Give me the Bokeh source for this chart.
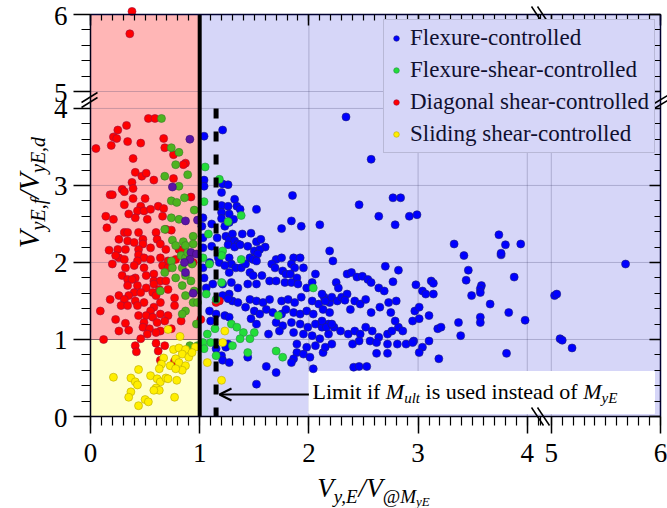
import math
from bokeh.plotting import figure
from bokeh.models import (FixedTicker, LinearAxis, Label,
                          Arrow, OpenHead, Legend, LegendItem, Range1d)
from bokeh.embed import file_html
from bokeh.resources import INLINE

# ---------------- data ----------------
flexure = [
    (1.21,3.72),(1.04,3.64),(1.04,3.07),(1.04,2.99),(1.21,3.02),(1.26,3.01),(1.20,2.91),(1.85,2.87),(1.32,2.82),(1.20,2.74),
    (1.26,2.73),(1.34,2.73),(1.37,2.69),(1.52,2.69),(1.20,2.65),(1.27,2.63),(1.03,2.58),(1.20,2.57),(1.31,2.56),(1.84,2.54),
    (1.93,2.47),(2.10,2.49),(1.75,2.44),(1.11,2.50),(1.23,2.47),(1.27,2.52),(1.02,2.47),(1.16,2.32),(1.24,2.34),(1.27,2.30),
    (1.30,2.37),(1.39,2.37),(1.47,2.38),(1.32,2.28),(1.35,2.24),(1.11,2.21),(1.26,2.23),(1.32,2.20),(1.37,2.23),(1.44,2.21),
    (1.52,2.27),(1.56,2.30),(1.60,2.20),(1.50,2.15),(1.55,2.17),(1.53,2.11),(1.46,2.06),(1.49,2.04),(1.52,2.02),(1.17,2.06),
    (1.18,2.00),(1.27,2.06),(1.29,1.98),(1.23,1.96),(1.27,1.87),(1.33,1.93),(1.38,1.93),(1.42,1.98),(1.46,1.87),(1.49,1.83),
    (1.57,1.83),(1.64,1.76),(1.70,2.04),(1.75,2.06),(1.66,1.98),(1.69,1.93),(1.76,1.89),(1.79,1.85),(1.86,2.06),(1.92,2.06),
    (1.84,1.98),(1.87,1.93),(1.83,1.85),(1.89,1.80),(1.95,1.93),(2.06,1.85),(1.70,1.76),(1.78,1.74),(1.84,1.74),(1.90,1.72),
    (1.98,1.67),(2.03,1.74),(2.19,2.15),(2.22,2.02),(1.12,1.72),(1.21,1.72),(1.29,1.74),(1.35,1.67),(1.44,1.72),(1.52,1.72),
    (1.03,2.32),(1.03,2.19),(1.03,1.93),(1.04,1.80),(1.09,2.00),(1.06,1.67),
    (2.14,1.55),(1.27,1.59),(1.30,1.50),(1.35,1.48),(1.21,1.57),(1.26,1.53),(1.46,1.52),(1.52,1.50),(1.58,1.48),(1.64,1.52),
    (1.75,1.50),(1.81,1.52),(1.87,1.48),(1.93,1.55),(2.03,1.50),(2.09,1.46),(2.19,1.48),(1.42,1.42),(1.50,1.37),(1.55,1.33),
    (1.61,1.39),(1.67,1.35),(1.75,1.33),(1.79,1.39),(1.86,1.35),(1.92,1.33),(1.98,1.37),(2.04,1.33),(2.13,1.39),(2.19,1.35),
    (1.47,1.27),(1.52,1.20),(1.70,1.22),(1.76,1.18),(1.84,1.22),(1.92,1.20),(1.99,1.16),(2.06,1.20),(2.12,1.16),(2.18,1.20),
    (2.23,1.16),(1.63,1.07),(1.73,1.11),(1.86,1.09),(1.95,1.07),(2.03,1.05),(2.10,1.01),(2.18,1.07),(1.89,0.94),(1.98,0.90),
    (2.06,0.92),(2.13,0.83),(1.89,0.83),(1.95,0.81),(1.86,0.75),(1.84,0.70),(2.01,0.77),(1.44,0.77),(1.61,0.65),(1.70,0.57),
    (1.52,0.42),(2.04,0.62),(1.09,1.37),(1.10,1.24),(1.15,1.33),(1.23,1.31),(1.27,1.29),(1.26,0.94),(1.24,0.90),(1.20,0.79),
    (1.21,0.73),(1.27,0.70),(1.15,0.88),
    (2.34,3.89),(2.57,3.34),(2.77,2.84),(2.84,2.84),(2.46,2.75),(2.64,2.60),(2.79,2.49),(2.92,2.60),(2.99,2.62),(3.33,2.24),
    (3.42,2.09),(2.70,1.95),(2.82,1.90),(3.46,1.90),(3.44,1.77),(2.35,1.85),(2.39,1.87),(2.44,1.81),(2.49,1.82),(2.54,1.78),
    (2.57,1.74),(2.25,1.74),(2.27,1.67),(2.64,1.67),(2.69,1.63),(2.77,1.75),(2.98,1.71),(3.04,1.63),(3.07,1.59),(3.12,1.76),
    (3.14,1.73),(3.14,1.59),(3.58,1.70),(3.49,1.57),(3.37,1.22),(3.39,1.05),(3.19,0.75),
    (2.12,1.59),(2.15,1.50),(2.21,1.55),(2.26,1.50),(2.30,1.55),(2.35,1.59),(2.33,1.51),(2.42,1.50),(2.47,1.46),(2.52,1.52),
    (2.38,1.39),(2.57,1.35),(2.65,1.42),(2.73,1.48),(2.80,1.50),(2.75,1.35),(2.82,1.16),(2.79,1.24),(2.97,1.37),(3.01,1.42),
    (3.10,1.31),(2.95,1.24),(3.01,1.27),(2.12,1.24),(2.16,1.16),(2.21,1.20),(2.29,1.11),(2.36,1.07),(2.42,1.11),(2.47,1.07),
    (2.52,1.16),(2.58,1.11),(2.64,1.03),(2.72,1.07),(2.76,1.11),(2.86,1.11),(2.89,0.94),(2.96,0.98),(3.04,0.90),(3.01,0.83),
    (3.10,0.98),(3.18,1.14),(3.21,1.16),(2.15,0.90),(2.21,0.94),(2.40,0.94),(2.46,0.98),(2.56,0.98),(2.62,0.96),(2.72,0.94),
    (2.81,0.94),(2.95,0.96),(2.62,0.82),(2.72,0.82),(2.41,0.64),(2.46,0.65),(2.53,0.65),
    (3.74,2.36),(3.80,2.23),(3.94,2.24),(3.76,2.10),(3.76,2.12),(3.88,1.81),(3.57,1.66),(3.57,1.61),(3.66,1.46),(3.57,1.29),
    (3.57,1.22),(3.83,1.35),(3.98,1.25),(3.81,0.82),(5.03,1.57),(5.05,1.59),(5.08,1.01),(5.10,0.99),(5.19,0.89),(5.68,1.98),
]

flexure_shear = [
    (0.65,3.87),(0.74,3.49),(0.81,3.43),(0.78,3.27),(0.68,3.12),(0.89,3.14),(0.81,2.99),(0.86,2.84),(0.74,2.80),(0.79,2.78),
    (0.95,2.68),(0.74,2.58),(0.81,2.56),(0.68,2.43),(0.75,2.29),(0.85,2.27),(0.94,2.34),(0.78,2.22),(0.87,2.22),(0.94,2.24),
    (0.83,2.09),(0.74,2.02),(0.87,2.06),(0.68,1.87),(0.75,1.93),(0.84,1.93),(0.87,1.83),(0.92,1.76),(0.78,1.80),(0.64,1.63),
    (0.84,1.70),(0.95,1.63),(0.87,1.57),(0.94,1.48),(0.98,1.48),(0.87,1.37),(0.84,1.33),(0.97,1.20),(0.91,0.92),(0.98,0.92),
    (0.89,2.13),(0.93,1.98),
    (1.05,3.24),(1.18,3.08),(1.04,2.79),(1.38,2.61),(1.26,2.53),(1.08,2.37),(1.21,2.15),(1.20,2.09),(1.38,2.04),(1.09,1.98),
    (1.20,1.74),(2.04,1.67),(1.03,2.06),(1.06,1.59),(1.15,1.52),(1.29,1.20),(1.40,1.09),(1.34,1.16),(1.50,1.09),(1.14,1.14),
    (1.07,1.07),(1.10,0.96),(1.03,0.96),(1.04,0.88),(1.15,0.79),(1.30,0.92),(1.37,1.01),(1.46,1.01),(1.72,1.31),(1.44,0.83),
    (1.70,0.85),(1.76,0.77),
]

diagonal_shear = [
    (0.38,6.04),(0.36,5.75),(0.53,3.87),(0.59,3.87),(0.33,3.78),(0.25,3.72),(0.21,3.63),(0.24,3.61),(0.05,3.48),(0.19,3.52),
    (0.34,3.57),(0.46,3.55),(0.67,3.61),(0.68,3.49),(0.76,3.40),(0.39,3.35),(0.87,3.29),(0.85,3.27),(0.41,3.17),(0.47,3.12),
    (0.51,3.16),(0.58,3.07),(0.76,3.09),(0.38,3.04),(0.29,2.95),(0.31,2.92),(0.39,2.96),(0.18,2.88),(0.20,2.88),(0.39,2.83),
    (0.50,2.83),(0.92,2.85),
    (0.31,2.75),(0.46,2.73),(0.43,2.67),(0.35,2.63),(0.41,2.58),(0.49,2.67),(0.55,2.69),(0.62,2.73),(0.67,2.70),(0.52,2.56),
    (0.14,2.60),(0.21,2.56),(0.15,2.45),(0.66,2.60),
    (0.31,2.39),(0.34,2.39),(0.44,2.39),(0.60,2.39),(0.69,2.43),(0.74,2.42),(0.26,2.30),(0.34,2.28),(0.40,2.26),(0.48,2.30),
    (0.48,2.24),(0.61,2.30),(0.64,2.24),
    (0.17,2.16),(0.25,2.17),(0.32,2.17),(0.44,2.17),(0.55,2.19),(0.69,2.17),(0.81,2.17),(0.84,2.15),(0.26,2.06),(0.31,2.04),
    (0.44,2.10),(0.49,2.06),(0.43,2.02),(0.55,2.04),(0.64,2.06),(0.71,2.02),(0.78,2.04),(0.23,2.09),(0.94,2.00),
    (0.40,1.96),(0.49,1.93),(0.66,1.96),(0.71,1.93),(0.32,1.93),(0.20,1.98),(0.51,1.83),(0.58,1.85),(0.41,1.80),(0.29,1.83),
    (0.34,1.78),(0.38,1.78),(0.58,1.76),(0.64,1.76),(0.69,1.76),
    (0.34,1.70),(0.43,1.70),(0.51,1.67),(0.58,1.72),(0.63,1.65),(0.40,1.61),(0.46,1.61),(0.57,1.61),(0.60,1.57),(0.35,1.57),
    (0.26,1.57),(0.31,1.52),(0.71,1.65),(0.77,1.54),(0.18,1.52),(0.41,1.50),(0.49,1.48),(0.64,1.48),
    (0.28,1.44),(0.34,1.44),(0.43,1.44),(0.58,1.42),(0.77,1.44),(0.09,1.37),(0.55,1.37),(0.23,1.26),(0.32,1.21),(0.44,1.31),
    (0.51,1.31),(0.57,1.29),(0.64,1.33),(0.71,1.31),(0.68,1.24),(0.49,1.22),(0.61,1.22),(0.48,1.16),(0.54,1.14),(0.83,1.24),
    (1.01,1.26),(0.26,1.11),(0.35,1.12),(0.64,1.11),(0.74,1.14),(0.52,1.07),(0.46,1.01),(0.60,1.09),
    (0.12,1.00),(0.41,0.92),(0.42,0.84),(0.60,0.95),(0.62,0.85),(0.68,0.92),(0.64,0.73),(0.77,0.72),
    (1.15,1.48),(1.18,1.50),
]

sliding_shear = [
    (0.76,0.87),(0.81,0.89),(0.87,0.87),(0.84,0.81),(0.90,0.77),(0.96,0.90),(0.93,0.83),(0.67,0.76),(0.78,0.75),(0.65,0.68),
    (0.73,0.66),(0.81,0.70),(0.87,0.66),(0.84,0.60),(0.78,0.62),(0.63,0.62),(0.44,0.61),(0.37,0.50),(0.41,0.45),(0.43,0.41),
    (0.55,0.53),(0.61,0.49),(0.64,0.45),(0.69,0.50),(0.71,0.49),(0.79,0.47),(0.21,0.51),(0.60,0.37),(0.63,0.34),(0.37,0.32),
    (0.35,0.25),(0.58,0.34),(0.50,0.22),(0.53,0.19),(0.44,0.14),(0.77,0.25),(0.71,1.13),(0.82,1.04),(1.07,0.70),(1.20,0.47),
    (1.21,0.96),(1.23,1.11),
]

# flexure points overlapping shear points (shown darker)
overlap = [(0.91,3.60),(0.75,2.98),(0.87,2.54),(0.98,2.55),(0.92,2.13),(0.97,2.11),(0.91,2.04),(0.86,2.00),(0.87,1.87),(0.94,1.60)]

series_names = ["Flexure-controlled", "Flexure-shear-controlled",
                "Diagonal shear-controlled", "Sliding shear-controlled"]
x_major = [0, 1, 2, 3, 4, 5, 6]
y_major = [0, 1, 2, 3, 4, 5, 6]
x_tick_labels = ["0", "1", "2", "3", "4", "5", "6"]
y_tick_labels = ["0", "1", "2", "3", "4", "5", "6"]
x_minor = [round(i * 0.1, 1) for i in range(0, 42)] + [round(4.9 + i * 0.1, 1) for i in range(0, 12)]
y_minor = [round(i * 0.2, 1) for i in range(0, 21)] + [round(5.0 + i * 0.2, 1) for i in range(0, 6)]
x_grid = [2, 3, 4, 5]
y_grid = [1, 2, 3, 4, 5]
shear_limit = 1.0        # V_y,E / V@MyE = 1
sliding_limit = 1.0      # V_yE,f / V_yE,d = 1
mult_limit = 1.15        # limit if M_ult is used
mult_limit_top = 4.0

# ---------------- broken-axis transform ----------------
GAP = 0.78
def t(v):
    return v if v <= 4.5 else v - GAP

UMAX = t(6.0)
W, H = 667, 508
FL, FR, FT, FB = 90, 660, 14, 416          # plot box inside the canvas
XU = (FR - FL) / UMAX
YU = (FB - FT) / UMAX
def dx(px): return (px - FL) / XU
def dy(py): return (FB - py) / YU
def px_of(u): return FL + u * XU
def py_of(v): return FB - v * YU

LAV = "#D6D6F8"
PINK = "#FFB6B6"
YEL = "#FFFFCC"
SERIF = "Liberation Serif, serif"
MID = 0.3375   # em-box middle above the baseline for this font

p = figure(width=W, height=H, x_range=Range1d(dx(0), dx(W)), y_range=Range1d(dy(H), dy(0)),
           output_backend="svg", toolbar_location=None, min_border=0,
           background_fill_color="white", border_fill_color="white", outline_line_color=None)
p.grid.visible = False

# backgrounds
p.quad(left=[0], right=[UMAX], bottom=[0], top=[UMAX], color=LAV, level="image")
p.quad(left=[0], right=[shear_limit], bottom=[sliding_limit], top=[UMAX], color=PINK, level="image")
p.quad(left=[0], right=[shear_limit], bottom=[0], top=[sliding_limit], color=YEL, level="image")
p.segment(x0=[0], y0=[sliding_limit], x1=[shear_limit], y1=[sliding_limit], line_color="#8a5050",
          line_width=1.2, line_alpha=0.8, level="image")

# grid lines
p.segment(x0=[t(g) for g in x_grid], y0=0, x1=[t(g) for g in x_grid], y1=UMAX,
          line_color="#40406a", line_alpha=0.28, line_width=1, level="underlay")
p.segment(x0=0, y0=[t(g) for g in y_grid], x1=UMAX, y1=[t(g) for g in y_grid],
          line_color="#40406a", line_alpha=0.28, line_width=1, level="underlay")

# tickers / axes (tick labels drawn below as serif labels)
xt = FixedTicker(ticks=[t(v) for v in x_major], minor_ticks=[t(v) for v in x_minor])
yt = FixedTicker(ticks=[t(v) for v in y_major], minor_ticks=[t(v) for v in y_minor])

ax_x = p.xaxis[0]
ax_y = p.yaxis[0]
for ax, tk in ((ax_x, xt), (ax_y, yt)):
    ax.ticker = tk
    ax.fixed_location = 0
    ax.bounds = (0, UMAX)
    ax.major_tick_in = 0
    ax.major_tick_out = 17
    ax.minor_tick_in = 0
    ax.minor_tick_out = 9
    ax.major_tick_line_width = 1.5
    ax.minor_tick_line_width = 1.2
    ax.axis_line_width = 1.5
    ax.axis_line_color = "#000018"
    ax.major_label_text_color = None

for loc, tk in (("above", xt), ("right", yt)):
    a = LinearAxis(ticker=tk, fixed_location=UMAX, bounds=(0, UMAX),
                   major_tick_in=11, major_tick_out=0, minor_tick_in=6, minor_tick_out=0,
                   major_label_text_color=None, axis_line_width=1.5, axis_line_color="#000030",
                   major_tick_line_width=1.5, minor_tick_line_width=1.2)
    p.add_layout(a, loc)

for v, s in zip(x_major, x_tick_labels):
    p.add_layout(Label(x=t(v), y=dy(452), text=s, text_font=SERIF, text_font_size="27px",
                       text_align="center", text_baseline="middle", text_color="black"))
for v, s in zip(y_major, y_tick_labels):
    p.add_layout(Label(x=dx(67), y=dy(py_of(t(v)) + 1), text=s, text_font=SERIF, text_font_size="27px",
                       text_align="right", text_baseline="middle", text_color="black"))

# white annotation box (glyph level, under markers)
p.quad(left=[2.0], right=[dx(654)], bottom=[dy(413)], top=[dy(371)], color="white")

def pts(lst, keep=lambda x: True):
    sel = [(x, y) for x, y in lst if keep(x)]
    return [t(x) for x, _ in sel], [t(y) for _, y in sel]

SZ = 8
bx, by = pts(flexure)
r_blue = p.scatter(bx, by, size=SZ, fill_color="#0000FF", line_color="#20207a", line_width=0.6)
rx, ry = pts(diagonal_shear)
r_red = p.scatter(rx, ry, size=SZ, fill_color="#FF0000", line_color="#9a1040", line_width=0.6)
gx1, gy1 = pts(flexure_shear, lambda x: x < shear_limit)
p.scatter(gx1, gy1, size=SZ, fill_color="#4DB31F", line_color="#3a7a2a", line_width=0.6)
gx2, gy2 = pts(flexure_shear, lambda x: x >= shear_limit)
r_green = p.scatter(gx2, gy2, size=SZ, fill_color="#22DD3A", line_color="#2a8a4a", line_width=0.6)
ox, oy = pts(overlap)
p.scatter(ox, oy, size=SZ, fill_color="#5A14A8", line_color="#3a1070", line_width=0.6)
yx, yy = pts(sliding_shear)
r_yel = p.scatter(yx, yy, size=SZ, fill_color="#FFEE00", line_color="#b8a800", line_width=0.6)

# limit lines
p.segment(x0=[shear_limit], y0=[0], x1=[shear_limit], y1=[UMAX], line_color="black", line_width=4)
p.segment(x0=[mult_limit], y0=[mult_limit_top], x1=[mult_limit], y1=[0], line_color="black",
          line_width=5, line_dash="10 13")

# arrow
p.add_layout(Arrow(end=OpenHead(size=12, line_width=2.2, line_color="black"),
                   x_start=2.0, y_start=dy(394), x_end=dx(219), y_end=dy(394),
                   line_width=2.2, line_color="black"))

# ---------------- rich text helpers ----------------
REG = {' ': 250, 'L': 611, 'i': 278, 'm': 778, 't': 278, 'f': 333, 's': 389, 'u': 500, 'e': 444,
       'd': 500, 'n': 500, 'a': 444, 'o': 500, '@': 921, ',': 250, '/': 278, 'l': 278, 'y': 500,
       'E': 611, 'M': 889, 'V': 722}
ITA = {' ': 250, 'M': 833, 'u': 500, 'l': 278, 't': 278, 'y': 444, 'E': 611, 'V': 611, ',': 250,
       'f': 278, 'd': 500, '/': 278, '@': 920}

def tw(s, size, italic):
    tab = ITA if italic else REG
    return sum(tab.get(c, 500) for c in s) * size / 1000.0

def rich(pieces, start, base, rotated=False, color="black"):
    # base = baseline position in canvas px; labels are anchored at the em-box middle
    cur = start
    for txt, size, it, shift in pieces:
        stripped = txt.strip()
        lead = tw(txt[:len(txt) - len(txt.lstrip())], size, it)
        mid = base + shift - MID * size
        if rotated:
            lx, ly, ang = dx(mid), dy(cur - lead), math.pi / 2
            cur -= tw(txt, size, it)
        else:
            lx, ly, ang = dx(cur + lead), dy(mid), 0
            cur += tw(txt, size, it)
        p.add_layout(Label(x=lx, y=ly, text=stripped, angle=ang, text_font=SERIF,
                           text_font_size="%gpx" % size,
                           text_font_style="italic" if it else "normal",
                           text_align="left", text_baseline="middle", text_color=color))

def total(pieces):
    return sum(tw(tx, s, it) for tx, s, it, _ in pieces)

ann = [("Limit if ", 22, False, 0), ("M", 22, True, 0), ("ult", 15, True, 5),
       (" is used instead of ", 22, False, 0), ("M", 22, True, 0), ("yE", 15, True, 5)]
rich(ann, 312, 398)

xlab = [("V", 27, True, 0), ("y,E", 19, True, 5), ("/", 27, True, 0), ("V", 27, True, 0),
        ("@", 19, False, 5), ("M", 19, True, 5), ("yE", 13, True, 8)]
rich(xlab, 373 - total(xlab) / 2, 497)

ylab = [("V", 29, True, 0), ("yE,f", 20, True, 6), ("/", 29, True, 0), ("V", 29, True, 0),
        ("yE,d", 20, True, 6)]
rich(ylab, 192 + total(ylab) / 2, 38, rotated=True)

# ---------------- axis break marks ----------------
def brk(x0, y0, x1, y1):
    p.add_layout(Arrow(start=None, end=None, x_start=dx(x0), y_start=dy(y0), x_end=dx(x1), y_end=dy(y1),
                       line_color="black", line_width=1.5))

brk(81, 107, 97, 97); brk(81, 102, 97, 92)
brk(652, 109, 667, 100); brk(652, 104, 667, 95)
brk(531, 6, 543, 24); brk(537, 6, 549, 24)
brk(531, 407, 543, 425); brk(537, 407, 549, 425)

# ---------------- legend ----------------
legend = Legend(items=[LegendItem(label=series_names[0], renderers=[r_blue]),
                       LegendItem(label=series_names[1], renderers=[r_green]),
                       LegendItem(label=series_names[2], renderers=[r_red]),
                       LegendItem(label=series_names[3], renderers=[r_yel])],
                location=(383, 355), margin=0, padding=5, spacing=6, glyph_width=14, glyph_height=14,
                label_standoff=7, label_text_font=SERIF, label_text_font_size="23px",
                label_text_color="#101030", background_fill_color=LAV, background_fill_alpha=1.0,
                border_line_color="#9a9ab4", border_line_width=1)
p.add_layout(legend, "center")

open("out.html", "w").write(file_html(p, INLINE))
